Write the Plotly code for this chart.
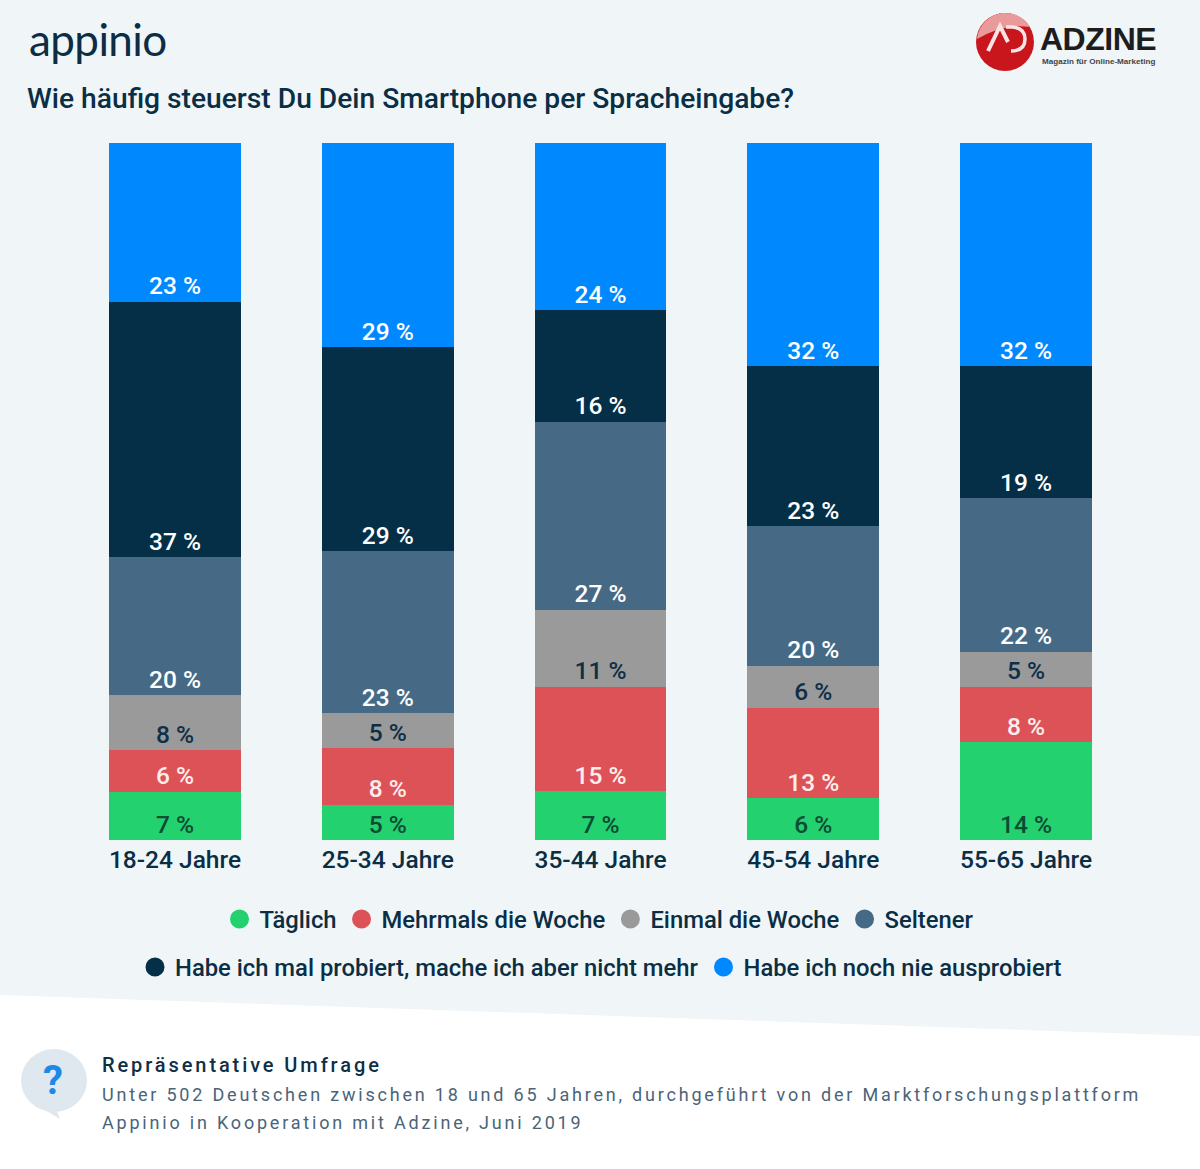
import plotly.graph_objects as go

W, H = 1200, 1169

categories = ["18-24 Jahre", "25-34 Jahre", "35-44 Jahre", "45-54 Jahre", "55-65 Jahre"]
taeglich = [7, 5, 7, 6, 14]
mehrmals = [6, 8, 15, 13, 8]
einmal = [8, 5, 11, 6, 5]
seltener = [20, 23, 27, 20, 22]
probiert = [37, 29, 16, 23, 19]
nie = [23, 29, 24, 32, 32]

names = ["Täglich", "Mehrmals die Woche", "Einmal die Woche", "Seltener",
         "Habe ich mal probiert, mache ich aber nicht mehr", "Habe ich noch nie ausprobiert"]
series = [taeglich, mehrmals, einmal, seltener, probiert, nie]
colors = ["#23d16f", "#dd5257", "#9a9a9a", "#466a85", "#052f47", "#0088ff"]
label_colors = ["#0c4c36", "#fdeeee", "#0f2f47", "#ffffff", "#ffffff", "#ffffff"]
legends = ["legend", "legend", "legend", "legend", "legend2", "legend2"]

INK = "#0a2e44"
FONT = "Roboto"


def px(x):
    return x / W


def py(y):
    return 1 - y / H


fig = go.Figure()
for name, vals, col, lcol in zip(names, series, colors, label_colors):
    fig.add_bar(
        x=categories, y=vals, name=name, marker=dict(color=col, line=dict(width=0)),
        text=[f"{v} %" for v in vals], textposition="inside", insidetextanchor="start",
        textangle=0, constraintext="none",
        textfont=dict(family=FONT, size=24.5, color=lcol, weight=500),
        showlegend=False, hoverinfo="skip",
    )
for name, col, leg in zip(names, colors, legends):
    fig.add_scatter(
        x=[None], y=[None], mode="markers", name=name, legend=leg,
        marker=dict(color=col, size=16, symbol="circle", line=dict(color=col, width=3)),
    )


def P(x, y):
    return f"{px(x):.5f} {py(y):.5f}"


def seg(d, fill):
    return dict(type="path", path=d, xref="paper", yref="paper", fillcolor=fill,
                line=dict(width=0), layer="below")


def stroke(d, color, width):
    return dict(type="path", path=d, xref="paper", yref="paper", line=dict(color=color, width=width),
                fillcolor="rgba(0,0,0,0)", layer="below")


def pth(points):
    return "M " + " L ".join(P(a, b) for a, b in points) + " Z"


def circle(cx, cy, r, fill):
    return dict(type="circle", xref="paper", yref="paper", x0=px(cx - r), x1=px(cx + r),
                y0=py(cy + r), y1=py(cy - r), fillcolor=fill, line=dict(width=0), layer="below")


shapes = [
    seg(pth([(0, 995), (W, 1036), (W, H), (0, H)]), "#ffffff"),
    # speech bubble
    dict(type="circle", xref="paper", yref="paper", x0=px(21), x1=px(87), y0=py(1112), y1=py(1049),
         fillcolor="#dfe8ef", line=dict(width=0), layer="below"),
    seg(pth([(33, 1103), (60, 1119), (55, 1106)]), "#dfe8ef"),
    # logo disc
    circle(1005, 42, 29, "#c8161c"),
    seg(f"M {P(977, 39)} C {P(979, 22)} {P(993, 13)} {P(1005, 13)} C {P(1016, 13)} {P(1025, 18)} {P(1030, 27)} "
        f"Q {P(1005, 23)} {P(977, 39)} Z", "#e99a9a"),
    stroke(f"M {P(988, 51)} L {P(1000, 26)} L {P(1008, 42)}", "#f8e4e4", 4),
    stroke(f"M {P(1006, 27)} L {P(1012, 27)} Q {P(1025, 28)} {P(1025, 39)} Q {P(1025, 51)} {P(1011, 51)}",
           "#f8e4e4", 3.5),
]


def ann(text, x, y, size, color, weight=400, family=FONT, xanchor="left"):
    return dict(text=text, x=px(x), y=py(y), xref="paper", yref="paper", showarrow=False,
                xanchor=xanchor, yanchor="middle", align="left",
                font=dict(family=family, size=size, color=color, weight=weight))


annotations = [
    ann("appinio", 27, 39, 44, "#0d2d44", 400, "Lato"),
    ann("ADZINE", 1038, 39, 32, "#1d1d1d", 700, "Liberation Sans"),
    ann("Magazin für Online-Marketing", 1040, 61, 8.1, "#444444", 700, "Liberation Sans"),
    ann("?", 53, 1080, 40, "#1e88e5", 700, FONT, "center"),
    ann("Repräsentative Umfrage", 100, 1065, 20, "#0f2f47", 500),
    ann("Unter 502 Deutschen zwischen 18 und 65 Jahren, durchgeführt von der Marktforschungsplattform",
        100, 1094, 18, "#4a6478"),
    ann("Appinio in Kooperation mit Adzine, Juni 2019", 100, 1122, 18, "#4a6478"),
]

legend_base = dict(orientation="h", xanchor="center", yanchor="middle", bgcolor="rgba(0,0,0,0)",
                   font=dict(family=FONT, size=23.8, color=INK, weight=500), itemsizing="trace",
                   traceorder="normal", itemclick=False, itemdoubleclick=False, tracegroupgap=0)

fig.update_layout(
    width=W, height=H, autosize=False, margin=dict(l=0, r=0, t=0, b=0, pad=0),
    paper_bgcolor="#f0f5f8", plot_bgcolor="rgba(0,0,0,0)",
    barmode="stack", barnorm="percent", bargap=0.38,
    title=dict(text="Wie häufig steuerst Du Dein Smartphone per Spracheingabe?",
               x=px(27), xanchor="left", xref="paper", y=py(98), yanchor="middle", yref="paper",
               font=dict(family=FONT, size=28.2, color=INK, weight=500)),
    xaxis=dict(domain=[px(68.6), px(1132.4)], type="category", categoryorder="array",
               categoryarray=categories, range=[-0.5, 4.5], showgrid=False, zeroline=False,
               showline=False, ticks="", ticklabelstandoff=2,
               tickfont=dict(family=FONT, size=24.5, color=INK, weight=500), automargin=False),
    yaxis=dict(domain=[1 - 840 / H, 1 - 143 / H], range=[0, 100], visible=False, fixedrange=True),
    legend=dict(legend_base, x=px(599), y=py(919)),
    legend2=dict(legend_base, x=px(601), y=py(967)),
    shapes=shapes, annotations=annotations,
)

post = """
document.body.style.margin='0';
var sp={'Repr':2.9,'Unte':2.8,'Appi':2.8};
document.querySelectorAll('.annotation-text').forEach(function(t){
  var k=t.textContent.slice(0,4);
  if(t.textContent==='appinio'){t.style.letterSpacing='-0.6px';return;}
  if(sp[k]) t.style.letterSpacing=sp[k]+'px';
  if(t.textContent==='ADZINE') t.style.letterSpacing='-0.5px';
});
document.querySelectorAll('.bartext').forEach(function(t){
  var tr=t.getAttribute('transform')||'';
  t.setAttribute('transform','translate(0,1.5) '+tr);
});
"""
fig.write_html("out.html", post_script=post, config={"displayModeBar": False})
